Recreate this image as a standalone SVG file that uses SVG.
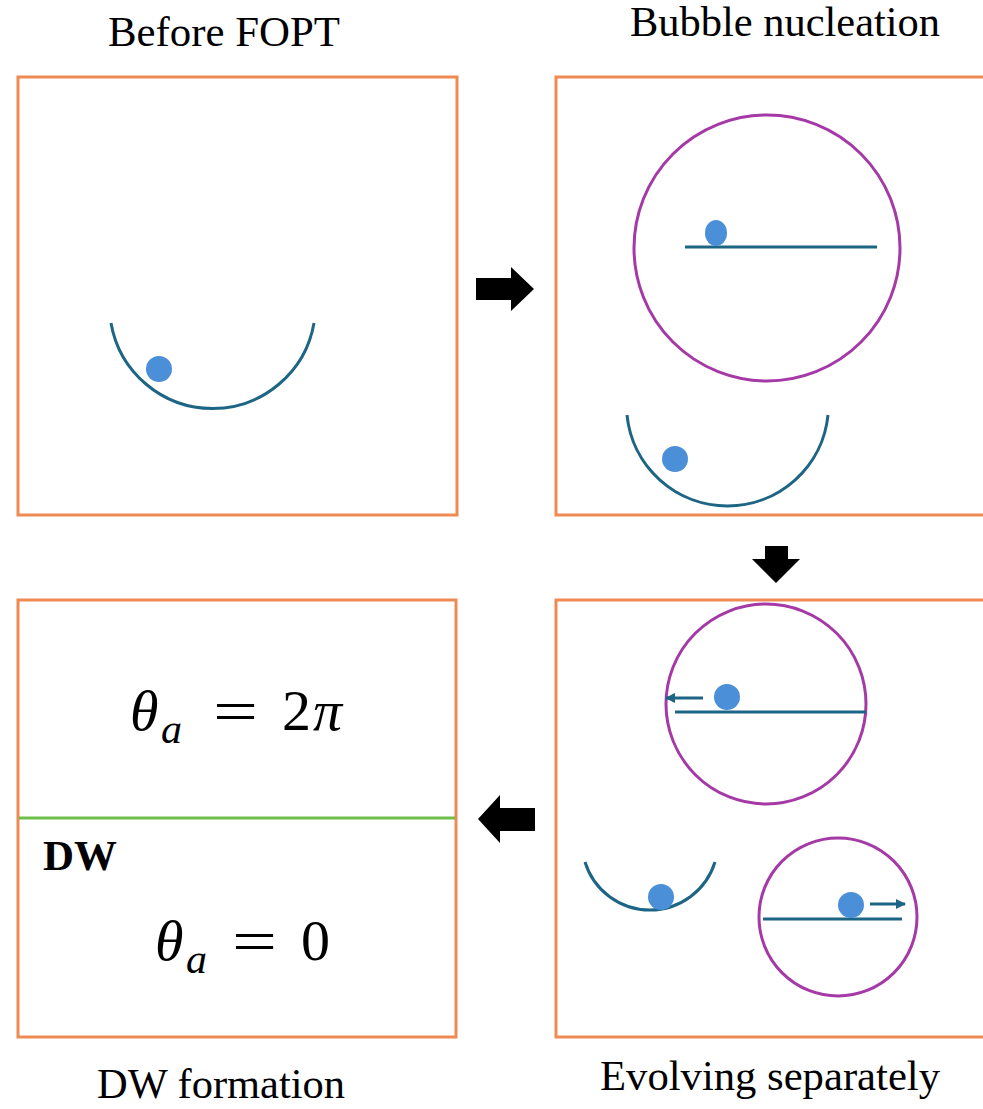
<svg xmlns="http://www.w3.org/2000/svg" width="983" height="1109" viewBox="0 0 983 1109">
<style>
.panel{fill:#fff;stroke:#ee8a52;stroke-width:3}
.title{font-family:"Liberation Serif",serif;font-size:42px;fill:#000;text-anchor:middle}
.well{fill:none;stroke:#1d6585;stroke-width:3}
.ball{fill:#4a8fd8}
.bubble{fill:none;stroke:#a53aa6;stroke-width:3}
.flow{fill:#000}
.math{font-family:"Liberation Serif",serif;fill:#000}
</style>
<defs>
<marker id="ah" markerWidth="10" markerHeight="10" refX="9" refY="5" orient="auto" markerUnits="userSpaceOnUse" viewBox="0 0 10 10">
<path d="M0,0 L10,5 L0,10 Z" fill="#1d6585"/>
</marker>
</defs>
<rect width="983" height="1109" fill="#fff"/>

<g id="panel-before">
<rect class="panel" x="18" y="77" width="439" height="438"/>
<text class="title" x="224" y="46" textLength="232" lengthAdjust="spacingAndGlyphs">Before FOPT</text>
<path class="well" d="M111,323 A103,103 0 0 0 314,323"/>
<circle class="ball" cx="159" cy="369" r="13"/>
</g>

<g id="panel-nucleation">
<rect class="panel" x="556" y="77" width="440" height="438"/>
<text class="title" x="785" y="36" textLength="310" lengthAdjust="spacingAndGlyphs">Bubble nucleation</text>
<circle class="bubble" cx="767" cy="248" r="133"/>
<line class="well" x1="685" y1="247" x2="877" y2="247"/>
<ellipse class="ball" cx="716" cy="233" rx="11" ry="13"/>
<path class="well" d="M627,415 A101,101 0 0 0 828,415"/>
<circle class="ball" cx="675" cy="459" r="13"/>
</g>

<g id="panel-evolving">
<rect class="panel" x="556" y="600" width="440" height="437"/>
<text class="title" x="770" y="1090" textLength="340" lengthAdjust="spacingAndGlyphs">Evolving separately</text>
<circle class="bubble" cx="766" cy="704" r="100"/>
<line class="well" x1="675" y1="712" x2="866" y2="712"/>
<circle class="ball" cx="727" cy="697" r="13"/>
<line class="well" x1="703" y1="698" x2="666" y2="698" marker-end="url(#ah)"/>
<path class="well" d="M585,862 A68,68 0 0 0 715,862"/>
<circle class="ball" cx="661" cy="897" r="13"/>
<circle class="bubble" cx="838" cy="917" r="79"/>
<line class="well" x1="763" y1="919" x2="902" y2="919"/>
<circle class="ball" cx="851" cy="905" r="13"/>
<line class="well" x1="870" y1="904" x2="905" y2="904" marker-end="url(#ah)"/>
</g>

<g id="panel-dw">
<rect class="panel" x="18" y="600" width="438" height="437"/>
<text class="title" x="221" y="1098" textLength="248" lengthAdjust="spacingAndGlyphs">DW formation</text>
<line x1="19" y1="818" x2="455" y2="818" stroke="#6cbf48" stroke-width="3"/>
<text x="43" y="870" font-family="Liberation Serif,serif" font-weight="bold" font-size="42" textLength="74" lengthAdjust="spacingAndGlyphs">DW</text>
<text class="math" x="130" y="730" font-size="58" font-style="italic">θ</text>
<text class="math" x="161" y="743" font-size="42" font-style="italic">a</text>
<text class="math" x="213" y="732" font-size="62" textLength="45" lengthAdjust="spacingAndGlyphs">=</text>
<text class="math" x="282" y="730" font-size="58">2</text>
<text class="math" x="313" y="730" font-size="58" font-style="italic">π</text>
<text class="math" x="155" y="960" font-size="58" font-style="italic">θ</text>
<text class="math" x="186" y="973" font-size="42" font-style="italic">a</text>
<text class="math" x="232" y="962" font-size="62" textLength="45" lengthAdjust="spacingAndGlyphs">=</text>
<text class="math" x="301" y="960" font-size="58">0</text>
</g>

<g id="connectors">
<path class="flow" d="M476,278 L511,278 L511,267 L534,289 L511,311 L511,300 L476,300 Z"/>
<path class="flow" d="M765,546 L788,546 L788,559 L800,559 L776,583 L752,559 L765,559 Z"/>
<path class="flow" d="M535,808 L500,808 L500,795 L478,819 L500,843 L500,831 L535,831 Z"/>
</g>
</svg>
